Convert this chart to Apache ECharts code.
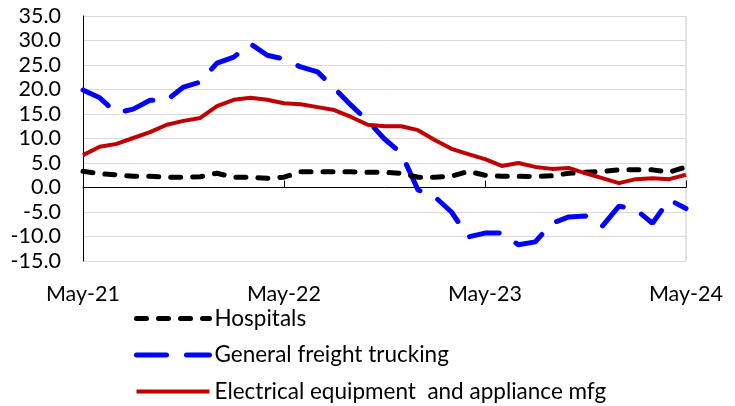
<!DOCTYPE html>
<html>
<head>
<meta charset="utf-8">
<script src="https://cdn.jsdelivr.net/npm/echarts@6/dist/echarts.min.js"></script>
<style>
html, body { margin: 0; padding: 0; background: #fff; }
#chart { width: 735px; height: 406px; }
</style>
</head>
<body>
<div id="chart"></div>
<script>
// monthly, May-21 .. May-24
var months = ['May-21','Jun-21','Jul-21','Aug-21','Sep-21','Oct-21','Nov-21','Dec-21',
	'Jan-22','Feb-22','Mar-22','Apr-22','May-22','Jun-22','Jul-22','Aug-22','Sep-22','Oct-22','Nov-22','Dec-22',
	'Jan-23','Feb-23','Mar-23','Apr-23','May-23','Jun-23','Jul-23','Aug-23','Sep-23','Oct-23','Nov-23','Dec-23',
	'Jan-24','Feb-24','Mar-24','Apr-24','May-24'];

var seriesNames = ['Hospitals', 'General freight trucking', 'Electrical equipment  and appliance mfg'];

var hospitals = [3.3, 2.8, 2.6, 2.3, 2.3, 2.1, 2.1, 2.2, 2.9, 2.1, 2.1, 1.9, 2.1,
	3.2, 3.2, 3.2, 3.2, 3.1, 3.1, 2.9, 2.1, 2.1, 2.3, 3.3, 2.5, 2.3, 2.3, 2.2,
	2.4, 2.9, 3.1, 3.3, 3.6, 3.6, 3.6, 3.1, 4.2];

var trucking = [19.9, 18.3, 15.2, 16.0, 17.8, 17.8, 20.5, 21.5, 25.4, 26.6, 29.3, 27.0, 26.2,
	24.6, 23.6, 20.3, 16.8, 13.6, 9.9, 7.0, -0.5, -1.9, -5.0, -10.1, -9.3, -9.3, -11.7, -11.1,
	-7.3, -6.0, -5.8, -7.9, -3.8, -4.5, -7.3, -2.5, -4.3];

var electrical = [6.6, 8.3, 8.9, 10.1, 11.3, 12.8, 13.6, 14.2, 16.6, 17.9, 18.3, 17.9, 17.2,
	17.0, 16.4, 15.8, 14.4, 12.8, 12.5, 12.5, 11.7, 9.7, 7.9, 6.8, 5.8, 4.4, 5.0, 4.2,
	3.8, 4.0, 2.9, 1.9, 0.9, 1.7, 1.9, 1.7, 2.6];

var chart = echarts.init(document.getElementById('chart'));
var fontName = 'Lato';
var fs = 21.5;

var blackLine = { color: '#000', width: 5, type: [10, 12], cap: 'round' };
var blueLine = { color: '#0000ff', width: 5, type: [30, 20], cap: 'round' };
var redLine = { color: '#c00000', width: 4 };

var option = {
	animation: false,
	grid: { left: 83, right: 49, top: 16, bottom: 145 },
	legend: {
		orient: 'vertical',
		left: 134,
		top: 307,
		padding: 0,
		itemWidth: 73,
		itemHeight: 14,
		itemGap: 13.5,
		itemStyle: { opacity: 0 },
		data: [
			{ name: seriesNames[0], lineStyle: blackLine },
			{ name: seriesNames[1], lineStyle: blueLine },
			{ name: seriesNames[2], lineStyle: redLine }
		],
		textStyle: { fontFamily: fontName, fontSize: 22.5, lineHeight: 22, color: '#000' }
	},
	xAxis: [{
		type: 'category',
		data: months,
		boundaryGap: false,
		position: 'bottom',
		axisLine: { show: false, onZero: false },
		axisTick: { show: false },
		axisLabel: { interval: 11, margin: 22, fontFamily: fontName, fontSize: fs, color: '#000' }
	}, {
		type: 'category',
		data: months,
		boundaryGap: false,
		axisLine: { onZero: true, lineStyle: { color: '#000', width: 1 } },
		axisTick: { interval: 11, length: 7, lineStyle: { color: '#000' } },
		axisLabel: { show: false }
	}],
	yAxis: {
		type: 'value',
		min: -15,
		max: 35,
		interval: 5,
		axisLine: { show: true, lineStyle: { color: '#000', width: 1 } },
		axisTick: { show: false },
		axisLabel: {
			margin: 22, fontFamily: fontName, fontSize: fs, color: '#000',
			formatter: function (v) { return v.toFixed(1); }
		},
		splitLine: { lineStyle: { color: '#d9d9d9', width: 1 } }
	},
	series: [{
		name: seriesNames[0],
		type: 'line',
		data: hospitals,
		symbol: 'none',
		z: 3,
		lineStyle: blackLine,
		itemStyle: { color: '#000' }
	}, {
		name: seriesNames[1],
		type: 'line',
		data: trucking,
		symbol: 'none',
		z: 2,
		lineStyle: blueLine,
		itemStyle: { color: '#0000ff' }
	}, {
		name: seriesNames[2],
		type: 'line',
		data: electrical,
		symbol: 'none',
		z: 4,
		lineStyle: redLine,
		itemStyle: { color: '#c00000' }
	}],
	graphic: [{
		type: 'rect',
		shape: { x: 686, y: 16, width: 0, height: 245 },
		style: { stroke: '#d9d9d9', lineWidth: 1 },
		silent: true
	}]
};
chart.setOption(option);
</script>
</body>
</html>
